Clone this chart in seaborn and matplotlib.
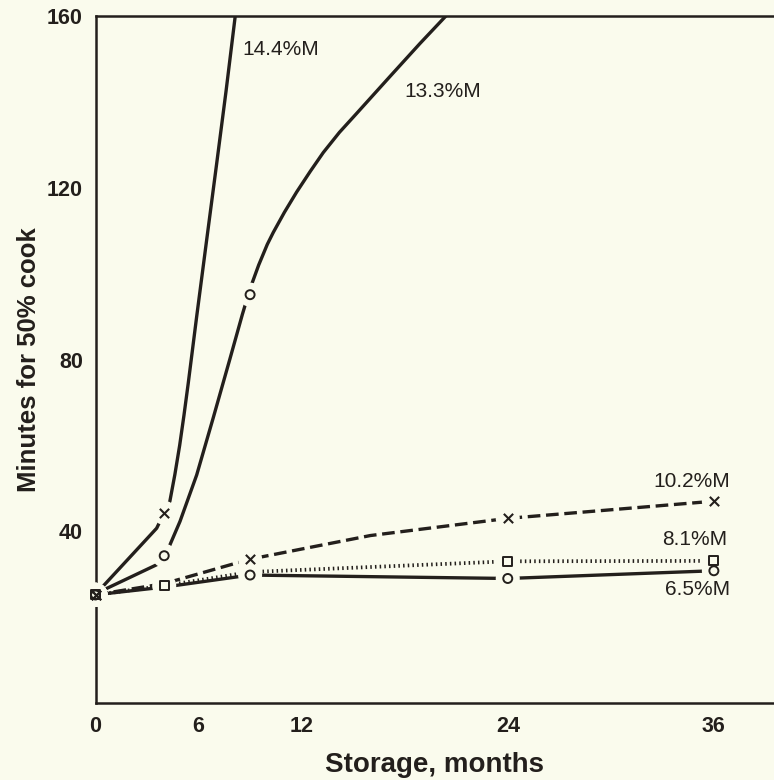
import matplotlib
matplotlib.use("Agg")
import matplotlib.pyplot as plt
import seaborn as sns
import pandas as pd

# ---------------- data ----------------
# measured points (markers)
m65_x = [0, 9, 24, 36]
m65_y = [25.2, 29.8, 29.0, 30.8]
m81_x = [0, 4, 24, 36]
m81_y = [25.2, 27.3, 33.0, 33.1]
m102_x = [0, 9, 24, 36]
m102_y = [25.2, 33.5, 43.0, 47.0]
m133_x = [0, 4, 9]
m133_y = [25.2, 34.3, 95.1]
m144_x = [0, 4]
m144_y = [25.2, 44.3]

# fitted curves as drawn in the reference
c65_x = [0, 4, 9, 24, 36]
c65_y = [25.2, 27.0, 29.8, 29.0, 30.8]
c81_x = [0, 4, 9, 24, 36]
c81_y = [25.2, 27.3, 30.5, 33.0, 33.1]
c102_x = [0, 4, 9, 16, 24, 36]
c102_y = [25.2, 27.8, 33.5, 39.0, 43.0, 47.0]
c133_x = [0, 0.45, 3.56, 4, 4.33, 4.92, 5.89, 6.86, 7.83, 8.55, 9, 9.5, 10,
          10.35, 11, 11.71, 12.5, 13.26, 14.2, 15.2, 17.14, 18.89, 20.54]
c133_y = [25.2, 26.3, 32.2, 34.3, 36.8, 42.3, 53.1, 66.5, 80.2, 90.5, 96.5, 102.0, 106.8,
          109.6, 114.3, 119.0, 123.8, 128.2, 132.9, 137.3, 145.9, 153.6, 160.6]
c144_x = [0, 0.44, 3.56, 4, 4.33, 4.62, 4.9, 5.15, 5.4, 5.89, 6.47, 7.05, 7.6, 8.12, 8.15]
c144_y = [25.2, 27.2, 40.7, 44.3, 47.0, 53.2, 60.0, 67.0, 74.5, 90.0, 107.8, 125.5, 142.5, 159.5, 161.0]

labels = ["14.4%M", "13.3%M", "10.2%M", "8.1%M", "6.5%M"]
label_x = [8.53, 18.0, 36.93, 36.8, 36.93]
label_y = [152.3, 142.4, 51.5, 38.0, 26.5]
label_ha = ["left", "left", "right", "right", "right"]

x_ticks = [0, 6, 12, 17, 24, 36]
x_tick_labels = ["0", "6", "12", "", "24", "36"]
y_ticks = [20, 40, 60, 80, 100, 120, 140, 160]
y_tick_labels = ["", "40", "", "80", "", "120", "", "160"]

# ---------------- style ----------------
BG = "#fafbed"
INK = "#231f1c"

sns.set_theme(style="white")
plt.rcParams["font.family"] = ["Liberation Sans", "DejaVu Sans"]
plt.rcParams["figure.facecolor"] = BG
plt.rcParams["axes.facecolor"] = BG

fig = plt.figure(figsize=(7.74, 7.80), dpi=100)
ax = fig.add_axes([95.5 / 774, 1 - 703 / 780, 1 - 95.5 / 774, (703 - 16) / 780])

LW = 2.4
curves = [
    (c144_x, c144_y, "-", LW),
    (c133_x, c133_y, "-", LW),
    (c102_x, c102_y, (0, (3.8, 1.7)), LW),
    (c81_x, c81_y, (0, (0.4, 0.85)), 2.7),
    (c65_x, c65_y, "-", LW),
]
for cx, cy, ls, lw in curves:
    df = pd.DataFrame({"x": cx, "y": cy})
    sns.lineplot(data=df, x="x", y="y", ax=ax, sort=False, estimator=None,
                 color=INK, linewidth=lw, linestyle=ls, zorder=2)
for ln in ax.lines:
    ln.set_dash_capstyle("butt")
    ln.set_solid_capstyle("butt")
    ln.set_solid_joinstyle("round")

marker_sets = [
    (m144_x, m144_y, "x"),
    (m133_x, m133_y, "o"),
    (m102_x, m102_y, "x"),
    (m81_x, m81_y, "s"),
    (m65_x, m65_y, "o"),
]
# halos (gaps in the lines around the plotted points)
for mx, my, mk in marker_sets:
    sns.scatterplot(x=mx, y=my, ax=ax, s=300, marker="o", legend=False)
    coll = ax.collections[-1]
    coll.set_facecolor(BG)
    coll.set_edgecolor("none")
    coll.set_zorder(3)
    coll.set_clip_on(False)
for mx, my, mk in marker_sets:
    sns.scatterplot(x=mx, y=my, ax=ax, marker=mk, legend=False,
                    s=45 if mk == "x" else (42 if mk == "o" else 40))
    coll = ax.collections[-1]
    if mk == "x":
        coll.set_facecolor(INK)
        coll.set_edgecolor(INK)
        coll.set_linewidth(1.5)
    else:
        coll.set_facecolor("none")
        coll.set_edgecolor(INK)
        coll.set_linewidth(1.4)
    coll.set_zorder(4)
    coll.set_clip_on(False)

for t, tx, ty, ha in zip(labels, label_x, label_y, label_ha):
    ax.text(tx, ty, t, ha=ha, va="center", fontsize=15, color=INK)

ax.set_xlim(0, 39.5)
ax.set_ylim(0, 160)
ax.set_xticks(x_ticks)
ax.set_xticklabels(x_tick_labels)
ax.set_yticks(y_ticks)
ax.set_yticklabels(y_tick_labels)
ax.tick_params(axis="both", direction="in", length=8, width=1.6, color=INK,
               labelsize=15.5, labelcolor=INK)
ax.tick_params(axis="x", pad=9)
ax.tick_params(axis="y", pad=9)
for lab in ax.get_xticklabels() + ax.get_yticklabels():
    lab.set_fontweight("bold")

ax.set_xlabel("Storage, months", fontsize=20, fontweight="bold", color=INK, labelpad=11)
ax.set_ylabel("Minutes for 50% cook", fontsize=18.5, fontweight="bold", color=INK, labelpad=4)

for side in ["left", "bottom", "top"]:
    ax.spines[side].set_visible(True)
    ax.spines[side].set_color(INK)
    ax.spines[side].set_linewidth(1.8)
    ax.spines[side].set_zorder(2.5)
ax.spines["right"].set_visible(False)

fig.savefig("out.png", dpi=100, facecolor=BG)
